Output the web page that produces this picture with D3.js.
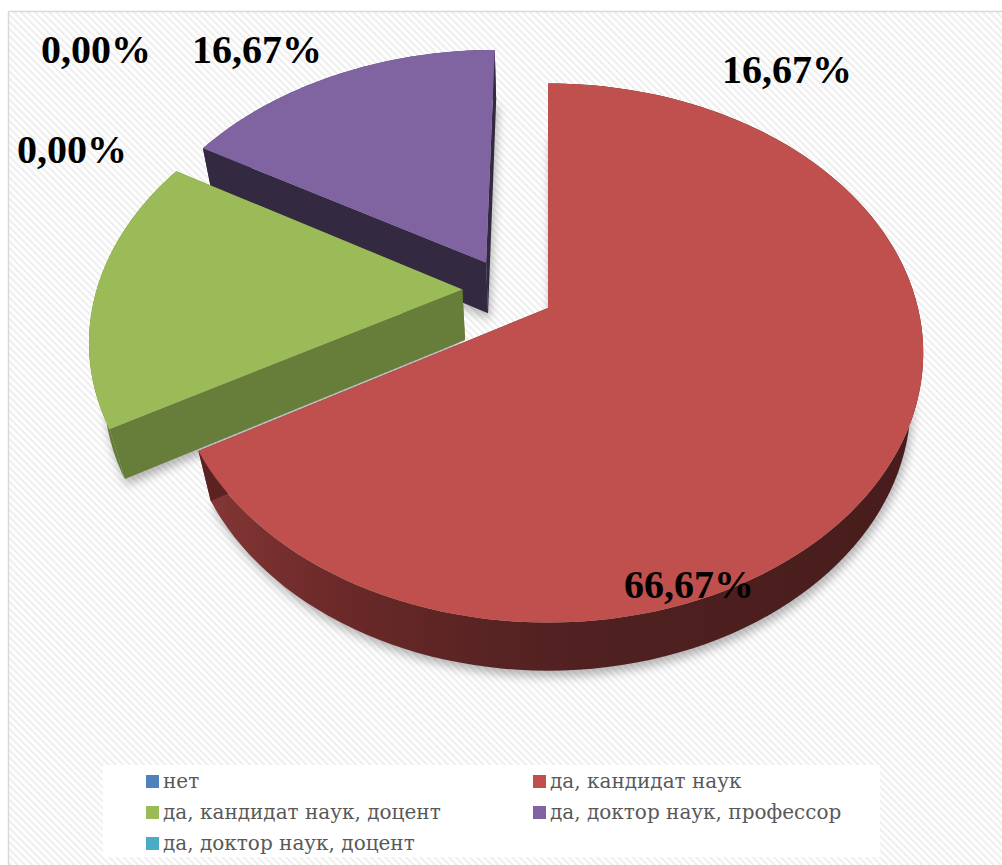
<!DOCTYPE html>
<html>
<head>
<meta charset="utf-8">
<script src="https://cdn.jsdelivr.net/npm/d3@7"></script>
<style>
  html, body { margin: 0; padding: 0; background: #ffffff; }
  svg { display: block; }
</style>
</head>
<body>
<div id="chart"></div>
<script>
// Data
const categories = ['нет', 'да, кандидат наук', 'да, кандидат наук, доцент', 'да, доктор наук, профессор', 'да, доктор наук, доцент'];
const values = [0, 66.67, 16.67, 16.67, 0];
const valueLabels = ['0,00%', '66,67%', '16,67%', '16,67%', '0,00%'];

// Colours and layout
const colors = ['#4F81BD', '#C0504D', '#9BBB59', '#8064A2', '#4BACC6'];
const cutColors = ['#2F4D71', '#5A2322', '#677D3A', '#332941', '#2D6777'];
// explode distance (radius units) and direction (degrees) per slice
const explode = [null, null, {d: 0.245, a: 287}, {d: 0.248, a: 316}, null];
// data label anchors (label centre x, baseline y)
const labelPos = [[96, 63], [689, 598], [787, 83], [257, 63], [72, 163]];

const width = 1002, height = 865;
const serif = "'Liberation Serif', 'Times New Roman', serif";
const legendFont = "'DejaVu Serif', serif";

const svg = d3.select('#chart')
  .append('svg')
  .attr('width', width)
  .attr('height', height);

const defs = svg.append('defs');

const pat = defs.append('pattern')
  .attr('id', 'stripes')
  .attr('patternUnits', 'userSpaceOnUse')
  .attr('width', 5)
  .attr('height', 5)
  .attr('patternTransform', 'rotate(-45)');
pat.append('rect').attr('width', 5).attr('height', 5).attr('fill', '#ffffff');
pat.append('rect').attr('width', 2.2).attr('height', 5).attr('fill', '#EFEFEF');

const blur = defs.append('filter')
  .attr('id', 'shadow')
  .attr('x', '-20%').attr('y', '-20%')
  .attr('width', '140%').attr('height', '140%');
blur.append('feGaussianBlur').attr('stdDeviation', 5);

// Chart area with striped background
svg.append('rect')
  .attr('x', 8.5)
  .attr('y', 11.5)
  .attr('width', 1100)
  .attr('height', 900)
  .attr('fill', 'url(#stripes)')
  .attr('stroke', '#D9D9D9')
  .attr('stroke-width', 1.5);

// 3D projection of a tilted disc (radius 1, thickness T)
const cx = 548, cy = 308;
const elev = 45.1 * Math.PI / 180;
const sE = Math.sin(elev), cE = Math.cos(elev);
const D = 4.23, f = 1565, T = 0.2;

function proj(x, y, h) {
  const yv = y * sE - h * cE;
  const zv = D - y * cE - h * sE;
  return [cx + f * x / zv, cy + f * yv / zv];
}

const pie = d3.pie().sort(null).value(d => d);
const arcs = pie(values).map((a, i) => {
  const e = explode[i];
  const ox = e ? e.d * Math.sin(e.a * Math.PI / 180) : 0;
  const oy = e ? -e.d * Math.cos(e.a * Math.PI / 180) : 0;
  return {i, start: a.startAngle, end: a.endAngle, ox, oy};
}).filter(a => a.end - a.start > 1e-6);

// draw far slices first
arcs.sort((a, b) => a.oy - b.oy);

const line = d3.line();

function ring(a, h, n) {
  const pts = [];
  for (let k = 0; k <= n; k++) {
    const t = a.start + (a.end - a.start) * k / n;
    pts.push(proj(a.ox + Math.sin(t), a.oy - Math.cos(t), h));
  }
  return pts;
}

// wall shade by angle round the pie (degrees)
const redShade = d3.scaleLinear()
  .domain([110, 175, 205, 245])
  .range(['#481C1C', '#4F2020', '#672827', '#8E3B3A'])
  .clamp(true);

const shadowG = svg.append('g').attr('filter', 'url(#shadow)');
arcs.forEach(a => {
  const bottom = ring(a, -T, 80);
  bottom.unshift(proj(a.ox, a.oy, -T));
  shadowG.append('path')
    .attr('d', line(bottom) + 'Z')
    .attr('transform', 'translate(2,6)')
    .attr('fill', '#000')
    .attr('opacity', 0.28);
});

const pieG = svg.append('g');
arcs.forEach(a => {
  const g = pieG.append('g');
  const base = d3.color(colors[a.i]);

  // outer wall: one path, shaded by a gradient along x
  const topArc = ring(a, 0, 120);
  const botArc = ring(a, -T, 120).reverse();
  let wallFill = base.darker(1.2).formatHex();
  if (a.i === 1) {
    // visible front part runs from ~100° to 240°; x decreases with angle
    const degs = d3.range(100, 241, 10);
    const xs = degs.map(dg => proj(a.ox + Math.sin(dg * Math.PI / 180), a.oy - Math.cos(dg * Math.PI / 180), 0)[0]);
    const x0 = d3.min(xs), x1 = d3.max(xs);
    const grad = defs.append('linearGradient')
      .attr('id', 'wall' + a.i)
      .attr('gradientUnits', 'userSpaceOnUse')
      .attr('x1', x0).attr('y1', 0)
      .attr('x2', x1).attr('y2', 0);
    degs.slice().reverse().forEach(dg => {
      const px = proj(a.ox + Math.sin(dg * Math.PI / 180), a.oy - Math.cos(dg * Math.PI / 180), 0)[0];
      grad.append('stop')
        .attr('offset', (px - x0) / (x1 - x0))
        .attr('stop-color', redShade(dg));
    });
    wallFill = 'url(#wall' + a.i + ')';
  }
  g.append('path')
    .attr('d', line(topArc.concat(botArc)) + 'Z')
    .attr('fill', wallFill);

  // radial cut faces
  [a.start, a.end].forEach(t => {
    const p = [
      proj(a.ox, a.oy, 0),
      proj(a.ox + Math.sin(t), a.oy - Math.cos(t), 0),
      proj(a.ox + Math.sin(t), a.oy - Math.cos(t), -T),
      proj(a.ox, a.oy, -T)
    ];
    g.append('path')
      .attr('d', line(p) + 'Z')
      .attr('fill', cutColors[a.i]);
  });

  // top face
  const top = ring(a, 0, 120);
  top.unshift(proj(a.ox, a.oy, 0));
  g.append('path')
    .attr('d', line(top) + 'Z')
    .attr('fill', colors[a.i]);
});

// Data labels
svg.append('g')
  .selectAll('text')
  .data(valueLabels)
  .join('text')
  .attr('x', (d, i) => labelPos[i][0])
  .attr('y', (d, i) => labelPos[i][1])
  .attr('text-anchor', 'middle')
  .attr('font-family', serif)
  .attr('font-weight', 'bold')
  .attr('font-size', 40)
  .attr('fill', '#000000')
  .text(d => d);

// Legend
svg.append('rect')
  .attr('x', 103)
  .attr('y', 765)
  .attr('width', 777)
  .attr('height', 92)
  .attr('fill', '#ffffff');

const legendCols = [146, 533];
const legendRows = [788, 819, 850];
const legend = svg.append('g')
  .selectAll('g')
  .data(categories)
  .join('g')
  .attr('transform', (d, i) => `translate(${legendCols[i % 2]}, ${legendRows[Math.floor(i / 2)]})`);

legend.append('rect')
  .attr('x', 0)
  .attr('y', -13)
  .attr('width', 13)
  .attr('height', 13)
  .attr('fill', (d, i) => colors[i]);

legend.append('text')
  .attr('x', 17)
  .attr('y', 0)
  .attr('font-family', legendFont)
  .attr('font-size', 20)
  .attr('fill', '#595959')
  .text(d => d);
</script>
</body>
</html>
